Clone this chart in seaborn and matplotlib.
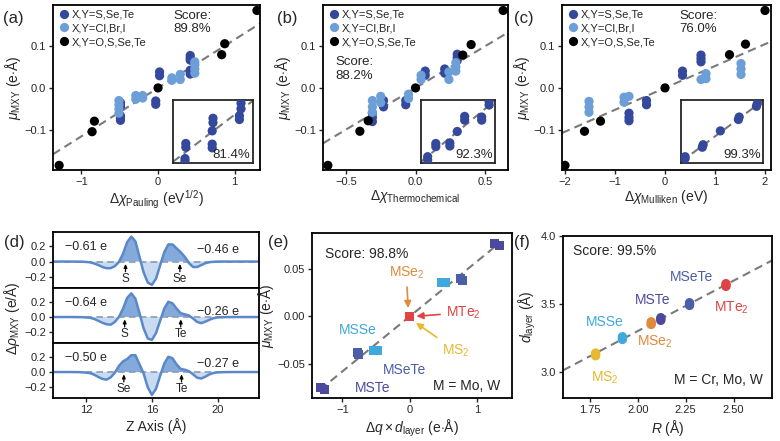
import numpy as np
import pandas as pd
import matplotlib.pyplot as plt
import seaborn as sns

sns.set_style('ticks')
plt.rcParams['font.family'] = ['Liberation Sans', 'DejaVu Sans']
plt.rcParams['mathtext.fontset'] = 'custom'
plt.rcParams['mathtext.rm'] = 'Liberation Sans'
plt.rcParams['mathtext.it'] = 'Liberation Sans:italic'
plt.rcParams['mathtext.bf'] = 'Liberation Sans:bold'

DARK = '#34489c'
LIGHT = '#6c9ed8'
GREY = '#7a7a7a'
GROUPS = ['X,Y=S,Se,Te', 'X,Y=Cl,Br,I', 'X,Y=O,S,Se,Te']
GROUP_COLORS = dict(zip(GROUPS, [DARK, LIGHT, 'black']))

# ---- (a) Pauling ----
a_dark_x = [-0.49, -0.49, -0.49, -0.49, -0.49, -0.49, -0.03, -0.03, 0.02, 0.02, 0.42, 0.42, 0.42, 0.42, 0.42, 0.42]
a_dark_y = [-0.035, -0.040, -0.045, -0.066, -0.071, -0.077, -0.031, -0.039, 0.029, 0.038, 0.033, 0.038, 0.042, 0.066, 0.071, 0.077]
a_light_x = [-0.51, -0.51, -0.51, -0.51, -0.29, -0.29, -0.20, -0.20, 0.18, 0.18, 0.29, 0.29, 0.48, 0.48, 0.48, 0.48]
a_light_y = [-0.030, -0.040, -0.050, -0.060, -0.018, -0.027, -0.018, -0.024, 0.018, 0.024, 0.020, 0.032, 0.035, 0.045, 0.055, 0.062]
a_black_x = [-1.29, -0.86, -0.83, 0.0, 0.83, 0.87, 1.29]
a_black_y = [-0.184, -0.104, -0.079, 0.0, 0.079, 0.105, 0.184]
a_slope = 0.115
a_score = 'Score:\n89.8%'
a_inset_x = [0.15, 0.15, 0.16, 0.16, 0.49, 0.49, 0.49, 0.50, 0.50, 0.83, 0.83, 0.85, 0.85]
a_inset_y = [0.03, 0.07, 0.25, 0.31, 0.24, 0.30, 0.51, 0.64, 0.71, 0.69, 0.75, 0.86, 0.95]
a_inset_score = '81.4%'

# ---- (b) Thermochemical ----
b_dark_x = [-0.31, -0.31, -0.31, -0.23, -0.23, -0.07, -0.07, 0.07, 0.07, 0.21, 0.21, 0.30, 0.30, 0.30]
b_dark_y = [-0.060, -0.070, -0.080, -0.030, -0.045, -0.030, -0.040, 0.030, 0.040, 0.035, 0.045, 0.065, 0.072, 0.080]
b_light_x = [-0.31, -0.31, -0.31, -0.25, -0.25, -0.05, -0.05, 0.04, 0.04, 0.24, 0.24, 0.29, 0.29, 0.29]
b_light_y = [-0.030, -0.045, -0.058, -0.020, -0.035, -0.015, -0.025, 0.020, 0.030, 0.020, 0.038, 0.040, 0.050, 0.060]
b_black_x = [-0.63, -0.40, -0.34, 0.0, 0.34, 0.40, 0.63]
b_black_y = [-0.184, -0.103, -0.078, 0.0, 0.078, 0.103, 0.184]
b_slope = 0.198
b_score = 'Score:\n88.2%'
b_inset_x = [0.09, 0.09, 0.20, 0.20, 0.39, 0.39, 0.49, 0.59, 0.59, 0.82, 0.82, 0.92, 0.92]
b_inset_y = [0.05, 0.10, 0.26, 0.31, 0.27, 0.32, 0.50, 0.68, 0.74, 0.68, 0.73, 0.92, 0.98]
b_inset_score = '92.3%'

# ---- (c) Mulliken ----
c_dark_x = [-0.72, -0.72, -0.72, -0.37, -0.37, 0.35, 0.35, 0.72, 0.72, 0.72]
c_dark_y = [-0.060, -0.070, -0.078, -0.030, -0.040, 0.030, 0.040, 0.062, 0.070, 0.078]
c_light_x = [-1.52, -1.52, -1.52, -0.82, -0.82, -0.72, 0.72, 0.82, 0.82, 1.52, 1.52, 1.52]
c_light_y = [-0.032, -0.045, -0.058, -0.022, -0.034, -0.020, 0.020, 0.022, 0.034, 0.032, 0.045, 0.058]
c_black_x = [-2.0, -1.61, -1.29, 0.0, 1.29, 1.61, 2.0]
c_black_y = [-0.184, -0.103, -0.079, 0.0, 0.079, 0.104, 0.184]
c_slope = 0.052
c_score = 'Score:\n76.0%'
c_inset_x = [0.05, 0.05, 0.26, 0.27, 0.48, 0.70, 0.71, 0.92, 0.93]
c_inset_y = [0.07, 0.10, 0.25, 0.29, 0.51, 0.69, 0.73, 0.90, 0.94]
c_inset_score = '99.3%'

# ---- (d) charge density difference ----
z_axis = [10.0, 11.0, 11.5, 11.75, 12.0, 12.25, 12.5, 12.75, 13.0, 13.25, 13.5, 13.75, 14.0, 14.25,
          14.5, 14.75, 15.0, 15.25, 15.5, 15.75, 16.0, 16.25, 16.5, 16.75, 17.0, 17.25, 17.5,
          17.75, 18.0, 18.25, 18.5, 18.75, 19.0, 19.25, 19.5, 19.75, 20.0, 20.5, 21.0, 22.5]
rho_s_se = [0.0, 0.0, -0.001, -0.002, -0.005, -0.010, -0.025, -0.045, -0.070, -0.085, -0.085, -0.060,
            -0.005, 0.10, 0.25, 0.32, 0.26, 0.06, -0.14, -0.27, -0.30, -0.22, -0.05, 0.12, 0.22,
            0.22, 0.17, 0.12, 0.06, -0.02, -0.07, -0.07, -0.045, -0.02, -0.008, -0.003, 0.0, 0.0, 0.0, 0.0]
rho_s_te = [0.0, 0.0, -0.001, -0.002, -0.005, -0.010, -0.025, -0.050, -0.075, -0.095, -0.100, -0.065,
            0.0, 0.11, 0.25, 0.31, 0.24, 0.05, -0.15, -0.28, -0.30, -0.21, -0.05, 0.11, 0.20,
            0.18, 0.11, 0.05, 0.035, 0.02, -0.02, -0.065, -0.08, -0.06, -0.035, -0.015, -0.005, -0.001, 0.0, 0.0]
rho_se_te = [0.0, 0.0, -0.001, -0.003, -0.008, -0.015, -0.035, -0.065, -0.090, -0.100, -0.070, -0.010,
             0.08, 0.14, 0.17, 0.22, 0.22, 0.10, -0.02, -0.20, -0.30, -0.22, -0.05, 0.11, 0.20,
             0.18, 0.10, 0.04, 0.03, 0.01, -0.03, -0.075, -0.085, -0.06, -0.03, -0.012, -0.004, -0.001, 0.0, 0.0]
d_left_charge = ['\u22120.61 e', '\u22120.64 e', '\u22120.50 e']
d_right_charge = ['\u22120.46 e', '\u22120.26 e', '\u22120.27 e']
d_left_charge_y = [0.19, 0.19, 0.18]
d_right_charge_y = [0.15, 0.07, 0.10]
d_atoms = [('S', 'Se'), ('S', 'Te'), ('Se', 'Te')]
d_atom_z = [(14.4, 17.7), (14.35, 17.75), (14.3, 17.8)]

# ---- (e) ----
e_names = ['MSTe', 'MSTe', 'MSeTe', 'MSeTe', 'MSSe', 'MSSe', 'MS2', 'MSe2', 'MTe2',
           'MSSe', 'MSSe', 'MSeTe', 'MSeTe', 'MSTe', 'MSTe']
e_x = [-1.33, -1.26, -0.78, -0.76, -0.53, -0.47, 0.0, 0.0, 0.0, 0.47, 0.53, 0.76, 0.78, 1.26, 1.33]
e_y = [-0.075, -0.077, -0.038, -0.040, -0.036, -0.036, 0.0, 0.0, 0.0, 0.036, 0.036, 0.040, 0.038, 0.077, 0.075]

# ---- (f) ----
f_names = ['MS2'] * 3 + ['MSSe'] * 3 + ['MSe2'] * 3 + ['MSTe'] * 3 + ['MSeTe'] * 3 + ['MTe2'] * 3
f_x = [1.78] * 3 + [1.92] * 3 + [2.07] * 3 + [2.12] * 3 + [2.27] * 3 + [2.46] * 3
f_y = [3.12, 3.13, 3.14, 3.24, 3.25, 3.26, 3.35, 3.36, 3.37, 3.38, 3.39, 3.40,
       3.49, 3.50, 3.51, 3.63, 3.64, 3.65]

COMPOUND_COLORS = {'MS2': '#e8b830', 'MSSe': '#3fa8dc', 'MSe2': '#e08a3c',
                   'MSTe': '#4d4a9e', 'MSeTe': '#4a5fa8', 'MTe2': '#e04343'}
LABELS = {'MS2': 'MS$_2$', 'MSSe': 'MSSe', 'MSe2': 'MSe$_2$', 'MSTe': 'MSTe',
          'MSeTe': 'MSeTe', 'MTe2': 'MTe$_2$'}

fig = plt.figure(figsize=(7.8, 4.41), dpi=100)
W, H = 780, 441


def rect(l, r, t, b):
    return [l / W, 1 - b / H, (r - l) / W, (b - t) / H]


def style_axes(ax):
    for sp in ax.spines.values():
        sp.set_linewidth(1.3)
        sp.set_color('black')
    ax.tick_params(direction='out', length=3, width=1, labelsize=8, pad=2)


MU_LABEL = r'$\mu_{\mathrm{MXY}}$ (e$\cdot$Å)'


def top_panel(r, irect, dark, light, black, slope, xlim, xticks, xlabel,
              score, score_pos, inset_x, inset_y, inset_score, tag, tag_x):
    ax = fig.add_axes(rect(*r))
    df = pd.DataFrame({
        'x': dark[0] + light[0] + black[0],
        'y': dark[1] + light[1] + black[1],
        'group': [GROUPS[0]] * len(dark[0]) + [GROUPS[1]] * len(light[0]) + [GROUPS[2]] * len(black[0]),
    })
    ax.axline((0, 0), slope=slope, color=GREY, ls=(0, (4, 2.5)), lw=1.5, zorder=1)
    sns.scatterplot(data=df, x='x', y='y', hue='group', palette=GROUP_COLORS,
                    s=44, edgecolor='none', ax=ax, zorder=3)
    ax.set_xlim(*xlim)
    ax.set_ylim(-0.195, 0.197)
    ax.set_xticks(xticks)
    ax.set_yticks([-0.1, 0.0, 0.1])
    ax.set_xlabel(xlabel, fontsize=10, labelpad=1)
    ax.set_ylabel(MU_LABEL, fontsize=10, labelpad=1)
    style_axes(ax)
    ax.legend(loc='upper left', frameon=False, fontsize=8, handletextpad=0.1,
              labelspacing=0.35, borderaxespad=0.1, borderpad=0.3, handlelength=1.2)
    ax.text(score_pos[0], score_pos[1], score, transform=ax.transAxes, ha='left',
            va='top', fontsize=9.5, linespacing=1.15)
    fig.text(tag_x / W, 1 - 18 / H, tag, fontsize=12, va='center')

    ins = fig.add_axes(rect(*irect))
    ins.axline((0, 0.02), slope=0.97, color=GREY, ls=(0, (4, 2.5)), lw=1.5, zorder=1)
    sns.scatterplot(x=inset_x, y=inset_y, color=DARK, s=44, edgecolor='none', ax=ins, zorder=3)
    ins.set_xlim(0, 1)
    ins.set_ylim(0, 1)
    ins.set_xticks([])
    ins.set_yticks([])
    for sp in ins.spines.values():
        sp.set_linewidth(1.3)
    ins.text(0.97, 0.03, inset_score, transform=ins.transAxes, ha='right', va='bottom', fontsize=9.5)


top_panel((53, 260, 5, 170), (173, 253, 100, 163), (a_dark_x, a_dark_y), (a_light_x, a_light_y),
          (a_black_x, a_black_y), a_slope, (-1.37, 1.33), [-1, 0, 1],
          r'$\Delta\chi_{\mathrm{Pauling}}$ (eV$^{1/2}$)', a_score, (0.58, 0.97),
          a_inset_x, a_inset_y, a_inset_score, '(a)', 3)
top_panel((323, 508, 5, 170), (421, 495, 100, 163), (b_dark_x, b_dark_y), (b_light_x, b_light_y),
          (b_black_x, b_black_y), b_slope, (-0.665, 0.665), [-0.5, 0.0, 0.5],
          r'$\Delta\chi_{\mathrm{Thermochemical}}$', b_score, (0.065, 0.69),
          b_inset_x, b_inset_y, b_inset_score, '(b)', 277)
top_panel((562, 771, 5, 170), (681, 763, 100, 163), (c_dark_x, c_dark_y), (c_light_x, c_light_y),
          (c_black_x, c_black_y), c_slope, (-2.06, 2.12), [-2, -1, 0, 1, 2],
          r'$\Delta\chi_{\mathrm{Mulliken}}$ (eV)', c_score, (0.56, 0.97),
          c_inset_x, c_inset_y, c_inset_score, '(c)', 514)

# ---- (d) ----
LINE_D = '#5b88c8'
POS_D = '#84a9db'
NEG_D = '#c9dbf1'
d_rows = [(232, 288), (288, 343), (343, 398)]
z = np.array(z_axis)
for i, rho in enumerate([rho_s_se, rho_s_te, rho_se_te]):
    ax = fig.add_axes(rect(53, 259, d_rows[i][0], d_rows[i][1]))
    rho = np.array(rho)
    ax.fill_between(z, rho, 0, where=rho >= 0, interpolate=True, color=POS_D, lw=0)
    ax.fill_between(z, rho, 0, where=rho <= 0, interpolate=True, color=NEG_D, lw=0)
    ax.axhline(0, color='#8a9bb5', ls=(0, (4, 2.5)), lw=1.2)
    sns.lineplot(x=z, y=rho, color=LINE_D, lw=1.8, ax=ax)
    ax.set_xlim(10, 22.5)
    ax.set_ylim(-0.34, 0.38)
    ax.set_yticks([-0.2, 0.0, 0.2])
    ax.set_xticks([12, 16, 20])
    style_axes(ax)
    if i < 2:
        ax.tick_params(axis='x', length=0, labelbottom=False)
    else:
        ax.set_xlabel('Z Axis (Å)', fontsize=10, labelpad=2)
    ax.text(10.7, d_left_charge_y[i], d_left_charge[i], fontsize=9, va='center', ha='left')
    ax.text(21.3, d_right_charge_y[i], d_right_charge[i], fontsize=9, va='center', ha='right')
    for atom, za in zip(d_atoms[i], d_atom_z[i]):
        ax.annotate('', xy=(za, -0.03), xytext=(za, -0.13),
                    arrowprops=dict(arrowstyle='-|>,head_length=0.22,head_width=0.1',
                                    color='black', lw=0.9, shrinkA=0, shrinkB=0))
        ax.text(za, -0.22, atom, fontsize=8.5, ha='center', va='center')
fig.text(12 / W, 1 - 318 / H, r'$\Delta\rho_{\mathrm{MXY}}$ (e/Å)', rotation=90,
         fontsize=10, ha='center', va='center')
fig.text(4 / W, 1 - 242 / H, '(d)', fontsize=12, va='center')

# ---- (e) ----
ax = fig.add_axes(rect(312, 512, 233, 398))
e_fit = np.polyfit(e_x, e_y, 1)
e_line_x = np.array([min(e_x), max(e_x)])
sns.lineplot(x=e_line_x, y=np.polyval(e_fit, e_line_x), color=GREY, lw=1.5,
             linestyle=(0, (4, 2.5)), ax=ax, zorder=1)
df_e = pd.DataFrame({'x': e_x, 'y': e_y, 'name': e_names})
sns.scatterplot(data=df_e, x='x', y='y', hue='name', palette=COMPOUND_COLORS, marker='s',
                s=42, edgecolor='none', legend=False, ax=ax, zorder=3)
ax.set_xlim(-1.45, 1.52)
ax.set_ylim(-0.086, 0.088)
ax.set_xticks([-1, 0, 1])
ax.set_yticks([-0.05, 0.0, 0.05])
ax.set_xlabel(r'$\Delta q\times d_{\mathrm{layer}}$ (e$\cdot$Å)', fontsize=10, labelpad=2)
ax.set_ylabel(MU_LABEL, fontsize=10, labelpad=1)
style_axes(ax)
ax.text(0.065, 0.87, 'Score: 98.8%', transform=ax.transAxes, fontsize=10, va='center')
ax.text(0.94, 0.07, 'M = Mo, W', transform=ax.transAxes, fontsize=10, va='center', ha='right')
arrow = dict(arrowstyle='-|>,head_length=0.4,head_width=0.2', lw=1.2)
ax.annotate(LABELS['MSe2'], xy=(-0.02, 0.006), xytext=(-0.05, 0.046), fontsize=10,
            color=COMPOUND_COLORS['MSe2'], ha='center', va='center',
            arrowprops=dict(arrow, color=COMPOUND_COLORS['MSe2']))
ax.annotate(LABELS['MTe2'], xy=(0.06, 0.0), xytext=(0.8, 0.004), fontsize=10,
            color=COMPOUND_COLORS['MTe2'], ha='center', va='center',
            arrowprops=dict(arrow, color=COMPOUND_COLORS['MTe2']))
ax.annotate(LABELS['MS2'], xy=(0.06, -0.005), xytext=(0.68, -0.036), fontsize=10,
            color=COMPOUND_COLORS['MS2'], ha='center', va='center',
            arrowprops=dict(arrow, color=COMPOUND_COLORS['MS2']))
ax.text(-0.77, -0.014, LABELS['MSSe'], color=COMPOUND_COLORS['MSSe'], fontsize=10, ha='center', va='center')
ax.text(-0.07, -0.056, LABELS['MSeTe'], color=COMPOUND_COLORS['MSeTe'], fontsize=10, ha='center', va='center')
ax.text(-0.55, -0.075, LABELS['MSTe'], color=COMPOUND_COLORS['MSTe'], fontsize=10, ha='center', va='center')
fig.text(268 / W, 1 - 242 / H, '(e)', fontsize=12, va='center')

# ---- (f) ----
ax = fig.add_axes(rect(563, 772, 236, 398))
f_fit = np.polyfit(f_x, f_y, 1)
ax.axline((0, f_fit[1]), slope=f_fit[0], color=GREY, ls=(0, (4, 2.5)), lw=1.5, zorder=1)
df_f = pd.DataFrame({'x': f_x, 'y': f_y, 'name': f_names})
sns.scatterplot(data=df_f, x='x', y='y', hue='name', palette=COMPOUND_COLORS,
                s=45, edgecolor='none', legend=False, ax=ax, zorder=3)
ax.set_xlim(1.61, 2.70)
ax.set_ylim(2.81, 4.0)
ax.set_xticks([1.75, 2.0, 2.25, 2.5])
ax.set_yticks([3.0, 3.5, 4.0])
ax.xaxis.set_major_formatter(plt.FormatStrFormatter('%.2f'))
ax.set_xlabel(r'$R$ (Å)', fontsize=10, labelpad=2)
ax.set_ylabel(r'$d_{\mathrm{layer}}$ (Å)', fontsize=10, labelpad=2)
style_axes(ax)
f_label_pos = {'MS2': (1.83, 2.96), 'MSSe': (1.83, 3.37), 'MSe2': (2.09, 3.22),
               'MSTe': (2.08, 3.53), 'MSeTe': (2.28, 3.70), 'MTe2': (2.49, 3.47)}
for name, (lx, ly) in f_label_pos.items():
    ax.text(lx, ly, LABELS[name], color=COMPOUND_COLORS[name], fontsize=10, ha='center', va='center')
ax.text(0.048, 0.91, 'Score: 99.5%', transform=ax.transAxes, fontsize=10, va='center')
ax.text(0.957, 0.11, 'M = Cr, Mo, W', transform=ax.transAxes, fontsize=10, va='center', ha='right')
fig.text(514 / W, 1 - 242 / H, '(f)', fontsize=12, va='center')

fig.savefig('out.png', dpi=100)
